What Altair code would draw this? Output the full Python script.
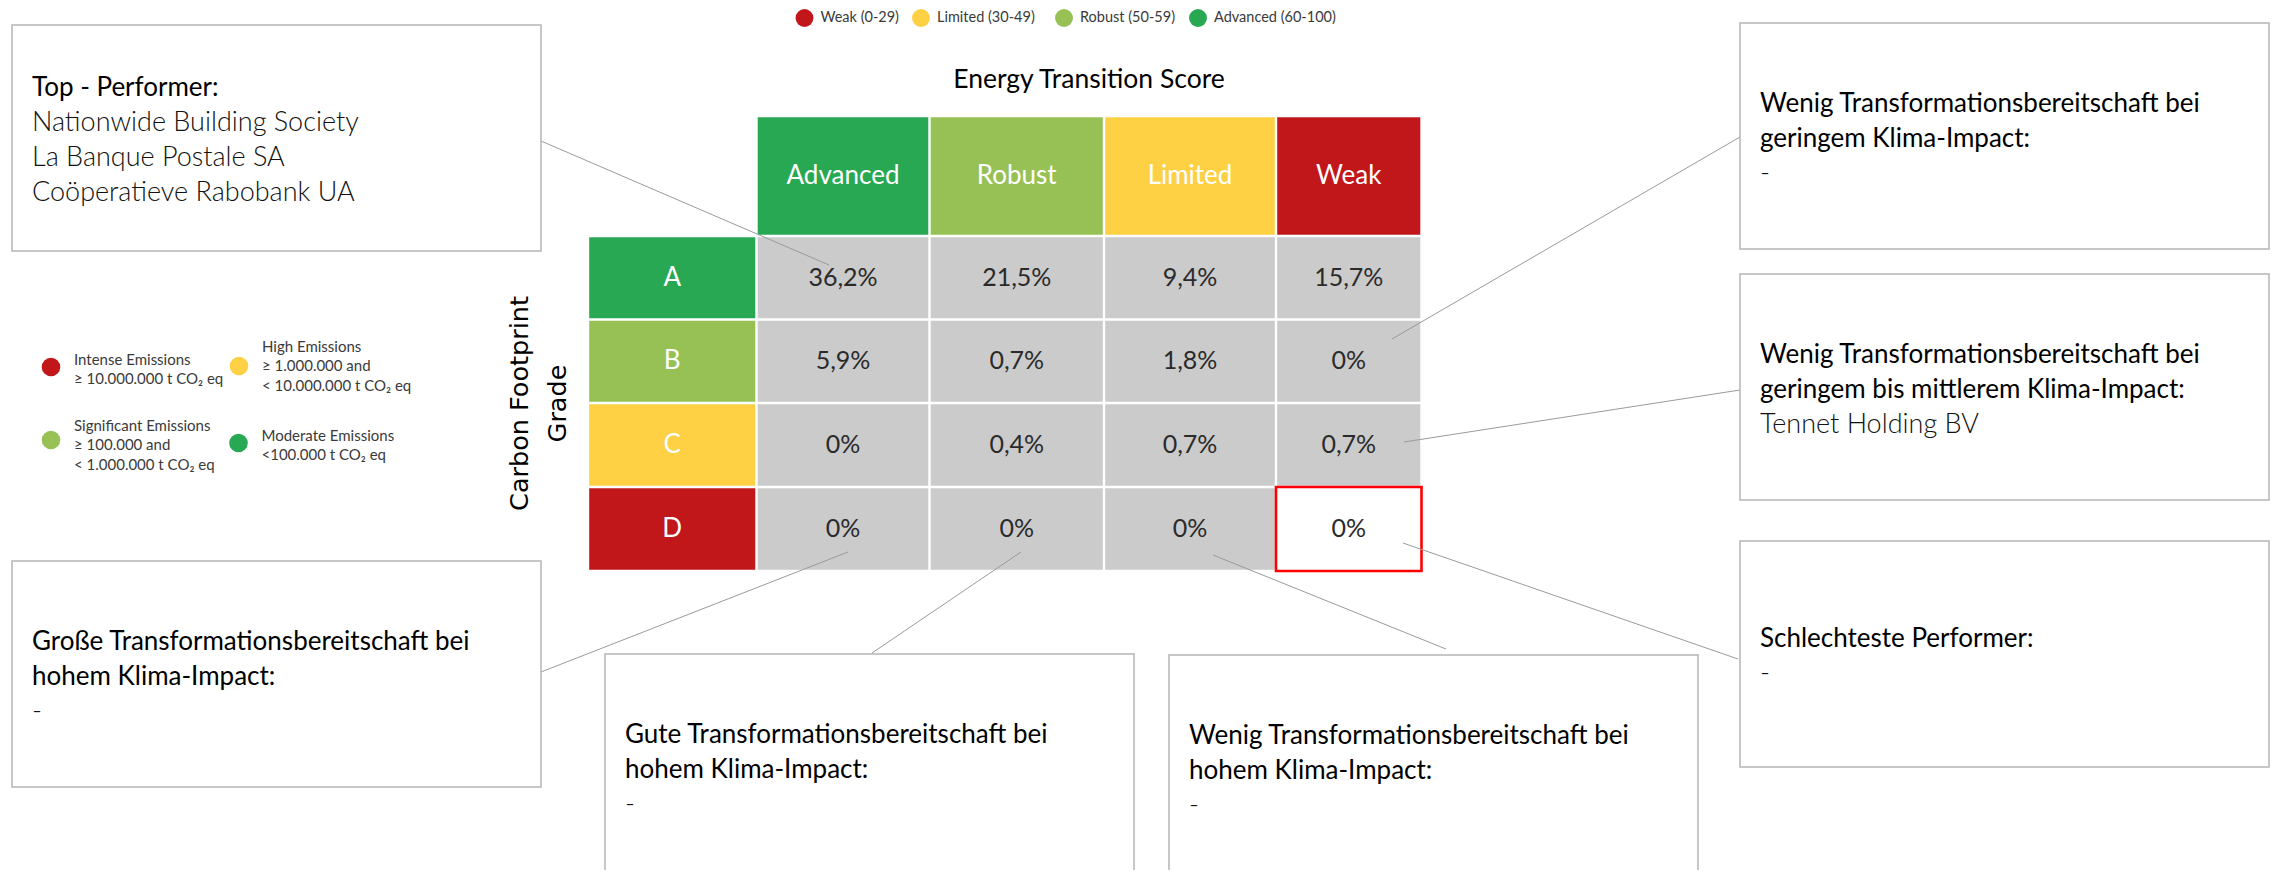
import altair as alt
import pandas as pd

# ======================= DATA =======================
score_levels = ["Advanced", "Robust", "Limited", "Weak"]
grades = ["A", "B", "C", "D"]
share_A = [36.2, 21.5, 9.4, 15.7]
share_B = [5.9, 0.7, 1.8, 0.0]
share_C = [0.0, 0.4, 0.7, 0.7]
share_D = [0.0, 0.0, 0.0, 0.0]
shares = [share_A, share_B, share_C, share_D]

chart_title = "Energy Transition Score"
row_title_lines = ["Carbon Footprint", "Grade"]

score_legend_levels = ["Weak", "Limited", "Robust", "Advanced"]
score_legend_labels = ["Weak (0-29)", "Limited  (30-49)", "Robust (50-59)", "Advanced (60-100)"]

emission_levels = ["Intense", "High", "Significant", "Moderate"]
emission_lines = [
    ["Intense Emissions", "≥ 10.000.000 t CO₂ eq"],
    ["High Emissions", "≥ 1.000.000 and", "< 10.000.000 t CO₂ eq"],
    ["Significant Emissions", "≥ 100.000 and", "< 1.000.000 t CO₂ eq"],
    ["Moderate Emissions", "<100.000 t CO₂ eq"],
]

callout_titles = [
    ["Top - Performer:"],
    ["Wenig Transformationsbereitschaft bei", "geringem Klima-Impact:"],
    ["Wenig Transformationsbereitschaft bei", "geringem bis mittlerem Klima-Impact:"],
    ["Schlechteste Performer:"],
    ["Wenig Transformationsbereitschaft bei", "hohem Klima-Impact:"],
    ["Gute Transformationsbereitschaft bei", "hohem Klima-Impact:"],
    ["Große Transformationsbereitschaft bei", "hohem Klima-Impact:"],
]
callout_entries = [
    ["Nationwide Building Society", "La Banque Postale SA", "Coöperatieve Rabobank UA"],
    ["-"],
    ["Tennet Holding BV"],
    ["-"],
    ["-"],
    ["-"],
    ["-"],
]
worst_cell = ("D", "Weak")

# ======================= STYLE / LAYOUT =======================
W, H = 2263, 862
FONT = "Lato"
DG, LG, YE, RD = "#28a852", "#97c155", "#fed145", "#c1171b"
CELL_GREY = "#cbcbcb"
level_color = {"Advanced": DG, "Robust": LG, "Limited": YE, "Weak": RD}
grade_color = {"A": DG, "B": LG, "C": YE, "D": RD}
emission_color = {"Intense": RD, "High": YE, "Significant": LG, "Moderate": DG}

col_edges = [756.5, 929.5, 1104, 1276, 1421.5]
row_edges = [116, 236, 319.5, 403, 487, 571]
label_edges = [588, 756.5]
GAP = 1.2

legend_cx = [804.5, 921, 1064, 1198]
legend_cy = 18

em_cx = [51, 239, 51, 238.5]
em_cy = [367, 366, 440, 443]
em_first_baseline = [365, 352, 431, 441]
EM_LH = 19.3

box_xy = [(12, 25), (1740, 23), (1740, 274), (1740, 541), (1169, 655), (605, 654), (12, 561)]
BOX_W, BOX_H = 529, 226
BOX_LH = 35
leader_from = [(541, 141), (1740, 137), (1740, 390), (1738, 659), (1446, 649), (872, 653), (541, 672)]
leader_to = [(829, 265), (1392, 339), (1404, 442), (1403, 543), (1213, 555), (1021, 552), (848, 552)]

XS = alt.Scale(domain=[8, 8 + W], nice=False, zero=False)
YS = alt.Scale(domain=[8, 8 + H], reverse=True, nice=False, zero=False)


def X(f="x"):
    return alt.X(f"{f}:Q", scale=XS, axis=None)


def Y(f="y"):
    return alt.Y(f"{f}:Q", scale=YS, axis=None)


def fmt(v):
    return "0%" if v == 0 else f"{v:.1f}".replace(".", ",") + "%"


# ---------- matrix tables ----------
head_rows, grade_rows, cell_rows = [], [], []
for si, s in enumerate(score_levels):
    x0, x1 = col_edges[si] + GAP, col_edges[si + 1] - GAP
    y0, y1 = row_edges[0] + GAP, row_edges[1] - GAP
    head_rows.append(dict(x=x0, x2=x1, y=y0, y2=y1, cx=(x0 + x1) / 2, cy=(y0 + y1) / 2,
                          fill=level_color[s], label=s))
for gi, g in enumerate(grades):
    x0, x1 = label_edges[0] + GAP, label_edges[1] - GAP
    y0, y1 = row_edges[gi + 1] + GAP, row_edges[gi + 2] - GAP
    grade_rows.append(dict(x=x0, x2=x1, y=y0, y2=y1, cx=(x0 + x1) / 2, cy=(y0 + y1) / 2,
                           fill=grade_color[g], label=g))
    for si, s in enumerate(score_levels):
        cx0, cx1 = col_edges[si] + GAP, col_edges[si + 1] - GAP
        worst = (g, s) == worst_cell
        cell_rows.append(dict(x=cx0, x2=cx1, y=y0, y2=y1, cx=(cx0 + cx1) / 2, cy=(y0 + y1) / 2,
                              fill="#ffffff" if worst else CELL_GREY, label=fmt(shares[gi][si]),
                              hx=col_edges[si], hx2=col_edges[si + 1],
                              hy=row_edges[gi + 1], hy2=row_edges[gi + 2], worst=worst))
head_df = pd.DataFrame(head_rows)
grade_df = pd.DataFrame(grade_rows)
cell_df = pd.DataFrame(cell_rows)
worst_df = cell_df[cell_df["worst"]]


def rects(df, **kw):
    return alt.Chart(df).mark_rect(**kw).encode(
        x=X("x"), x2=alt.X2("x2"), y=Y("y"), y2=alt.Y2("y2"),
        color=alt.Color("fill:N", scale=None))


def labels(df, xf="cx", yf="cy", **kw):
    return alt.Chart(df).mark_text(**kw).encode(x=X(xf), y=Y(yf), text="label:N")


layers = []
layers.append(rects(head_df))
layers.append(rects(grade_df))
layers.append(rects(cell_df))
layers.append(
    alt.Chart(worst_df).mark_rect(fill="#ffffff", stroke="#ff0000", strokeWidth=2.6).encode(
        x=X("hx"), x2=alt.X2("hx2"), y=Y("hy"), y2=alt.Y2("hy2"))
)
layers.append(labels(head_df, font=FONT, fontSize=26, color="white", baseline="middle", align="center"))
layers.append(labels(grade_df, font=FONT, fontSize=26, color="white", baseline="middle", align="center"))
layers.append(labels(cell_df, font=FONT, fontSize=25, color="#2a2a2a",
                     baseline="middle", align="center"))

# ---------- titles ----------
title_df = pd.DataFrame([dict(x=(col_edges[0] + col_edges[-1]) / 2, y=88, label=chart_title)])
layers.append(labels(title_df, "x", "y", font=FONT, fontSize=26.5, color="#000000", align="center",
                     baseline="alphabetic"))
rt_df = pd.DataFrame([dict(x=520 + i * 38, y=(row_edges[1] + row_edges[-1]) / 2, label=t)
                      for i, t in enumerate(row_title_lines)])
layers.append(labels(rt_df, "x", "y", font="DejaVu Sans", fontSize=25.5, color="#000000",
                     align="center", baseline="middle", angle=270))

# ---------- leader lines ----------
lead_df = pd.DataFrame([dict(x=a[0], y=a[1], x2=b[0], y2=b[1]) for a, b in zip(leader_from, leader_to)])
layers.append(
    alt.Chart(lead_df).mark_rule(color="#9a9a9a", strokeWidth=1).encode(
        x=X("x"), y=Y("y"), x2=alt.X2("x2"), y2=alt.Y2("y2"))
)

# ---------- callout boxes ----------
box_df = pd.DataFrame([dict(x=bx, x2=bx + BOX_W, y=by, y2=by + BOX_H) for bx, by in box_xy])
layers.append(
    alt.Chart(box_df).mark_rect(fill="white", stroke="#b5b5b5", strokeWidth=1.5, clip=True).encode(
        x=X("x"), x2=alt.X2("x2"), y=Y("y"), y2=alt.Y2("y2"))
)
t_rows, e_rows = [], []
for (bx, by), tl, el in zip(box_xy, callout_titles, callout_entries):
    n = len(tl) + len(el)
    first = by + (BOX_H - n * BOX_LH) / 2 + 28
    for i, t in enumerate(tl):
        t_rows.append(dict(x=bx + 20, y=first + i * BOX_LH, label=t))
    for j, t in enumerate(el):
        e_rows.append(dict(x=bx + 20, y=first + (len(tl) + j) * BOX_LH, label=t))
layers.append(labels(pd.DataFrame(t_rows), "x", "y", font=FONT, fontSize=26, color="#000000",
                     align="left", baseline="alphabetic"))
layers.append(labels(pd.DataFrame(e_rows), "x", "y", font=FONT, fontSize=27, fontWeight=300,
                     color="#111111", align="left", baseline="alphabetic"))

# ---------- top legend (Energy Transition Score) ----------
leg_df = pd.DataFrame([dict(cx=cx, cy=legend_cy, tx=cx + 16, fill=level_color[lv], label=lb)
                       for cx, lv, lb in zip(legend_cx, score_legend_levels, score_legend_labels)])
layers.append(
    alt.Chart(leg_df).mark_circle(size=320, opacity=1).encode(
        x=X("cx"), y=Y("cy"), color=alt.Color("fill:N", scale=None))
)
layers.append(labels(leg_df, "tx", "cy", font=FONT, fontSize=14.5, color="#3a3a3a",
                     baseline="middle", align="left"))

# ---------- left legend (emissions) ----------
em_df = pd.DataFrame([dict(cx=cx, cy=cy, fill=emission_color[lv])
                      for cx, cy, lv in zip(em_cx, em_cy, emission_levels)])
layers.append(
    alt.Chart(em_df).mark_circle(size=345, opacity=1).encode(
        x=X("cx"), y=Y("cy"), color=alt.Color("fill:N", scale=None))
)
em_t = []
for cx, fb, lines in zip(em_cx, em_first_baseline, emission_lines):
    for i, t in enumerate(lines):
        em_t.append(dict(x=cx + 23, y=fb + i * EM_LH, label=t))
layers.append(labels(pd.DataFrame(em_t), "x", "y", font=FONT, fontSize=15, color="#3a3a3a",
                     align="left", baseline="alphabetic"))

chart = alt.layer(*layers).properties(
    width=W, height=H, padding=0, autosize=alt.AutoSizeParams(type="none")
).configure_view(strokeWidth=0)

chart.save("out.html", embed_options={"renderer": "svg", "actions": False})
